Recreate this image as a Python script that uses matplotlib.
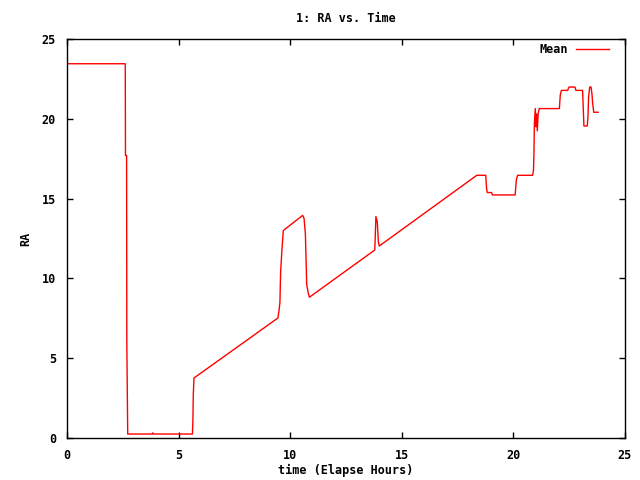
import matplotlib
matplotlib.use('Agg')
import matplotlib.pyplot as plt

# Time (elapsed hours) and mean RA
time_hours = [0.0, 2.61, 2.62, 2.67, 2.68, 2.72, 3.82, 3.84, 3.88, 5.62, 5.64,
              5.66, 5.69, 9.45, 9.5, 9.54, 9.57, 9.63, 9.69, 10.56, 10.62,
              10.68, 10.74, 10.81, 10.86, 13.79, 13.84, 13.9, 13.95, 13.99,
              18.36, 18.76, 18.8, 18.83, 19.02, 19.06, 20.08, 20.13, 20.19,
              20.86, 20.9, 20.92, 20.94, 20.98, 21.01, 21.04, 21.07, 21.11,
              21.16, 22.06, 22.1, 22.15, 22.43, 22.49, 22.76, 22.8, 23.1,
              23.13, 23.16, 23.31, 23.34, 23.37, 23.42, 23.48, 23.52, 23.55,
              23.6, 23.8]
ra_mean = [23.45, 23.45, 17.7, 17.7, 6.0, 0.25, 0.25, 0.32, 0.25, 0.25, 1.08,
           2.8, 3.76, 7.52, 8.0, 8.5, 10.4, 11.8, 13.0, 13.95, 13.76,
           12.8, 9.6, 9.07, 8.82, 11.78, 13.87, 13.55, 12.3, 12.03,
           16.46, 16.46, 15.62, 15.38, 15.38, 15.23, 15.23, 16.17, 16.46,
           16.46, 16.77, 17.81, 19.7, 20.64, 19.5, 20.3, 19.25, 20.34,
           20.64, 20.64, 21.49, 21.78, 21.78, 21.99, 21.99, 21.78, 21.78,
           20.64, 19.55, 19.55, 20.13, 21.4, 21.99, 21.99, 21.55, 20.97,
           20.41, 20.41]

x_ticks = [0, 5, 10, 15, 20, 25]
y_ticks = [0, 5, 10, 15, 20, 25]

fs = 8.5
plt.rcParams['font.family'] = ['DejaVu Sans Mono']
plt.rcParams['font.weight'] = 'bold'
plt.rcParams['font.size'] = fs

fig = plt.figure(figsize=(6.4, 4.8), dpi=100)
ax = fig.add_axes([67 / 640, 42 / 480, 558 / 640, 399 / 480])

ax.plot(time_hours, ra_mean, color='#ff0000', linewidth=1, label='Mean')

ax.set_xlim(0, 25)
ax.set_ylim(0, 25)
ax.set_xticks(x_ticks)
ax.set_yticks(y_ticks)
ax.tick_params(direction='in', top=True, right=True, length=4, width=1,
               pad=8, labelsize=fs)
for s in ax.spines.values():
    s.set_linewidth(1)

ax.set_title('1: RA vs. Time', fontsize=fs, fontweight='bold', pad=12)
ax.set_xlabel('time (Elapse Hours)', fontsize=fs, fontweight='bold')
ax.set_ylabel('RA', fontsize=fs, fontweight='bold')
ax.xaxis.set_label_coords(0.5, -0.064)
ax.yaxis.set_label_coords(-0.062, 0.5)

ax.legend(loc='upper right', frameon=False, markerfirst=False,
          handlelength=2.8, handletextpad=0.68, borderaxespad=0,
          borderpad=0, bbox_to_anchor=(0.9713, 0.99),
          prop={'weight': 'bold', 'size': fs})

fig.savefig('out.png', dpi=100)
